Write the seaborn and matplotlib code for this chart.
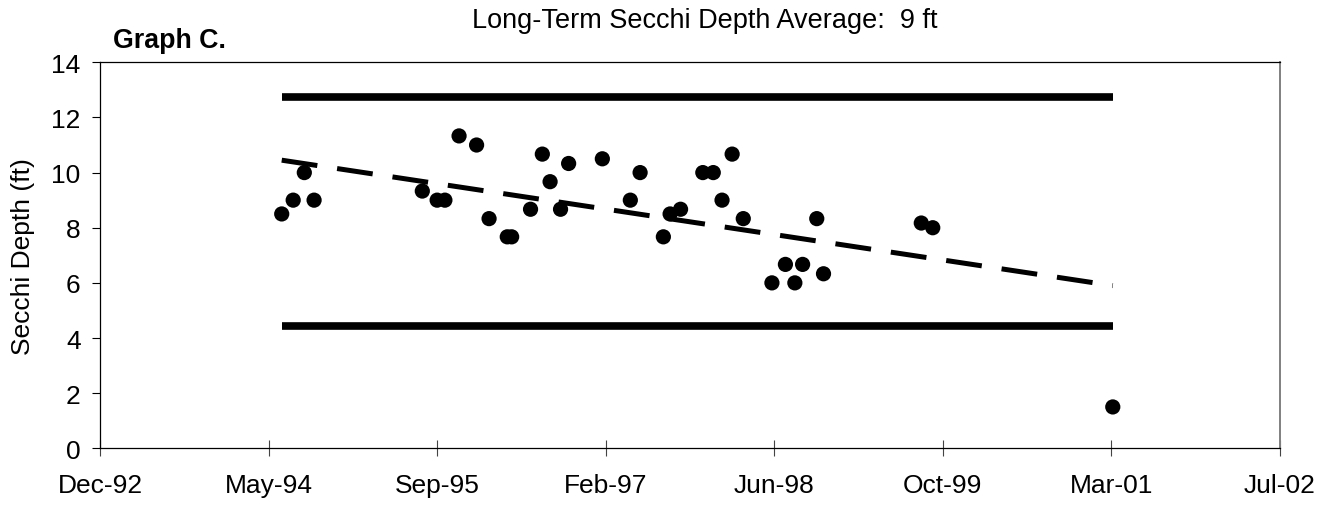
import numpy as np
import pandas as pd
import matplotlib
matplotlib.use("Agg")
import matplotlib.pyplot as plt
import seaborn as sns

# ---------------- data ----------------
sample_dates = [
    "1994-06-17", "1994-07-21", "1994-08-23", "1994-09-21",
    "1995-08-08", "1995-09-21", "1995-10-14", "1995-11-25",
    "1996-01-16", "1996-02-22", "1996-04-16", "1996-04-29",
    "1996-06-24", "1996-07-29", "1996-08-21", "1996-09-21",
    "1996-10-15", "1997-01-23", "1997-04-16", "1997-05-15",
    "1997-07-23", "1997-08-12", "1997-09-12", "1997-11-17",
    "1997-12-18", "1998-01-13", "1998-02-12", "1998-03-17",
    "1998-06-10", "1998-07-20", "1998-08-17", "1998-09-09",
    "1998-10-21", "1998-11-10", "1999-08-27", "1999-09-30",
    "2001-03-17",
]
secchi_ft = [
    8.5, 9.0, 10.0, 9.0,
    9.33, 9.0, 9.0, 11.33,
    11.0, 8.33, 7.67, 7.67,
    8.67, 10.67, 9.67, 8.67,
    10.33, 10.5, 9.0, 10.0,
    7.67, 8.5, 8.67, 10.0,
    10.0, 9.0, 10.67, 8.33,
    6.0, 6.67, 6.0, 6.67,
    8.33, 6.33, 8.17, 8.0,
    1.5,
]
upper_bound_ft = 12.73
lower_bound_ft = 4.45
trend_start_ft = 10.45
trend_end_ft = 5.9

x_tick_labels = ["Dec-92", "May-94", "Sep-95", "Feb-97", "Jun-98",
                 "Oct-99", "Mar-01", "Jul-02"]
axis_start = "1992-12-25"
tick_step_days = 500
y_ticks = [0, 2, 4, 6, 8, 10, 12, 14]

title_text = "Long-Term Secchi Depth Average:  9 ft"
panel_label = "Graph C."
y_label = "Secchi Depth (ft)"

# ---------------- frames ----------------
dates = pd.to_datetime(sample_dates)
df = pd.DataFrame({"date": dates, "secchi": secchi_ft})
band_up = pd.DataFrame({"date": dates, "v": [upper_bound_ft] * len(dates)})
band_lo = pd.DataFrame({"date": dates, "v": [lower_bound_ft] * len(dates)})
trend = pd.DataFrame({"date": [dates.min(), dates.max()],
                      "v": [trend_start_ft, trend_end_ft]})

# ---------------- style ----------------
sns.set_style("white")
plt.rcParams["font.family"] = ["Liberation Sans", "DejaVu Sans"]
for key in ("text.color", "axes.labelcolor", "xtick.color", "ytick.color"):
    plt.rcParams[key] = "black"
FS = 19

fig = plt.figure(figsize=(13.2, 5.06), dpi=100)
ax = fig.add_axes([100 / 1320, 1 - 449.3 / 506, 1180 / 1320, (449.3 - 63.3) / 506])

# bounds bands (thick solid lines)
for band in (band_up, band_lo):
    sns.lineplot(data=band, x="date", y="v", ax=ax, color="black",
                 linewidth=5.5, solid_capstyle="butt",
                 legend=False, zorder=2)

# trend line
sns.lineplot(data=trend, x="date", y="v", ax=ax, color="black",
             linewidth=3.6, legend=False, zorder=3)
tl = ax.lines[-1]
tl.set_dashes([7.2, 4.0])
tl.set_dash_capstyle("butt")

# data points
sns.scatterplot(data=df, x="date", y="secchi", ax=ax, color="black",
                s=120, edgecolor="none", linewidth=0, zorder=4, legend=False)

# ---------------- axes ----------------
start = pd.Timestamp(axis_start)
tick_dates = [start + pd.Timedelta(days=tick_step_days * k)
              for k in range(len(x_tick_labels))]
ax.set_xlim(tick_dates[0], tick_dates[-1])
ax.set_xticks(tick_dates)
ax.set_xticklabels(x_tick_labels, fontsize=FS, color="black")
ax.set_ylim(y_ticks[0], y_ticks[-1])
ax.set_yticks(y_ticks)
ax.set_yticklabels([str(t) for t in y_ticks], fontsize=FS, color="black")

ax.tick_params(axis="x", direction="inout", length=11.5, width=0.8,
               color="#444444", pad=12, bottom=True)
ax.tick_params(axis="y", direction="out", length=6, width=0.8,
               color="black", pad=8, left=True)

ax.set_xlabel("")
ax.set_ylabel(y_label, fontsize=FS, color="black")
ax.yaxis.set_label_coords(-0.055, 0.5)

for s in ("left", "bottom", "top"):
    ax.spines[s].set_color("black")
    ax.spines[s].set_linewidth(0.9)
ax.spines["right"].set_color("#808080")
ax.spines["right"].set_linewidth(1.4)
ax.grid(False)

fig.text(705 / 1320, 1 - 21 / 506, title_text, ha="center", va="center",
         fontsize=19.5, color="black")
fig.text(113 / 1320, 1 - 41 / 506, panel_label, ha="left", va="center",
         fontsize=19.3, fontweight="bold", color="black")

fig.savefig("out.png", dpi=100)
